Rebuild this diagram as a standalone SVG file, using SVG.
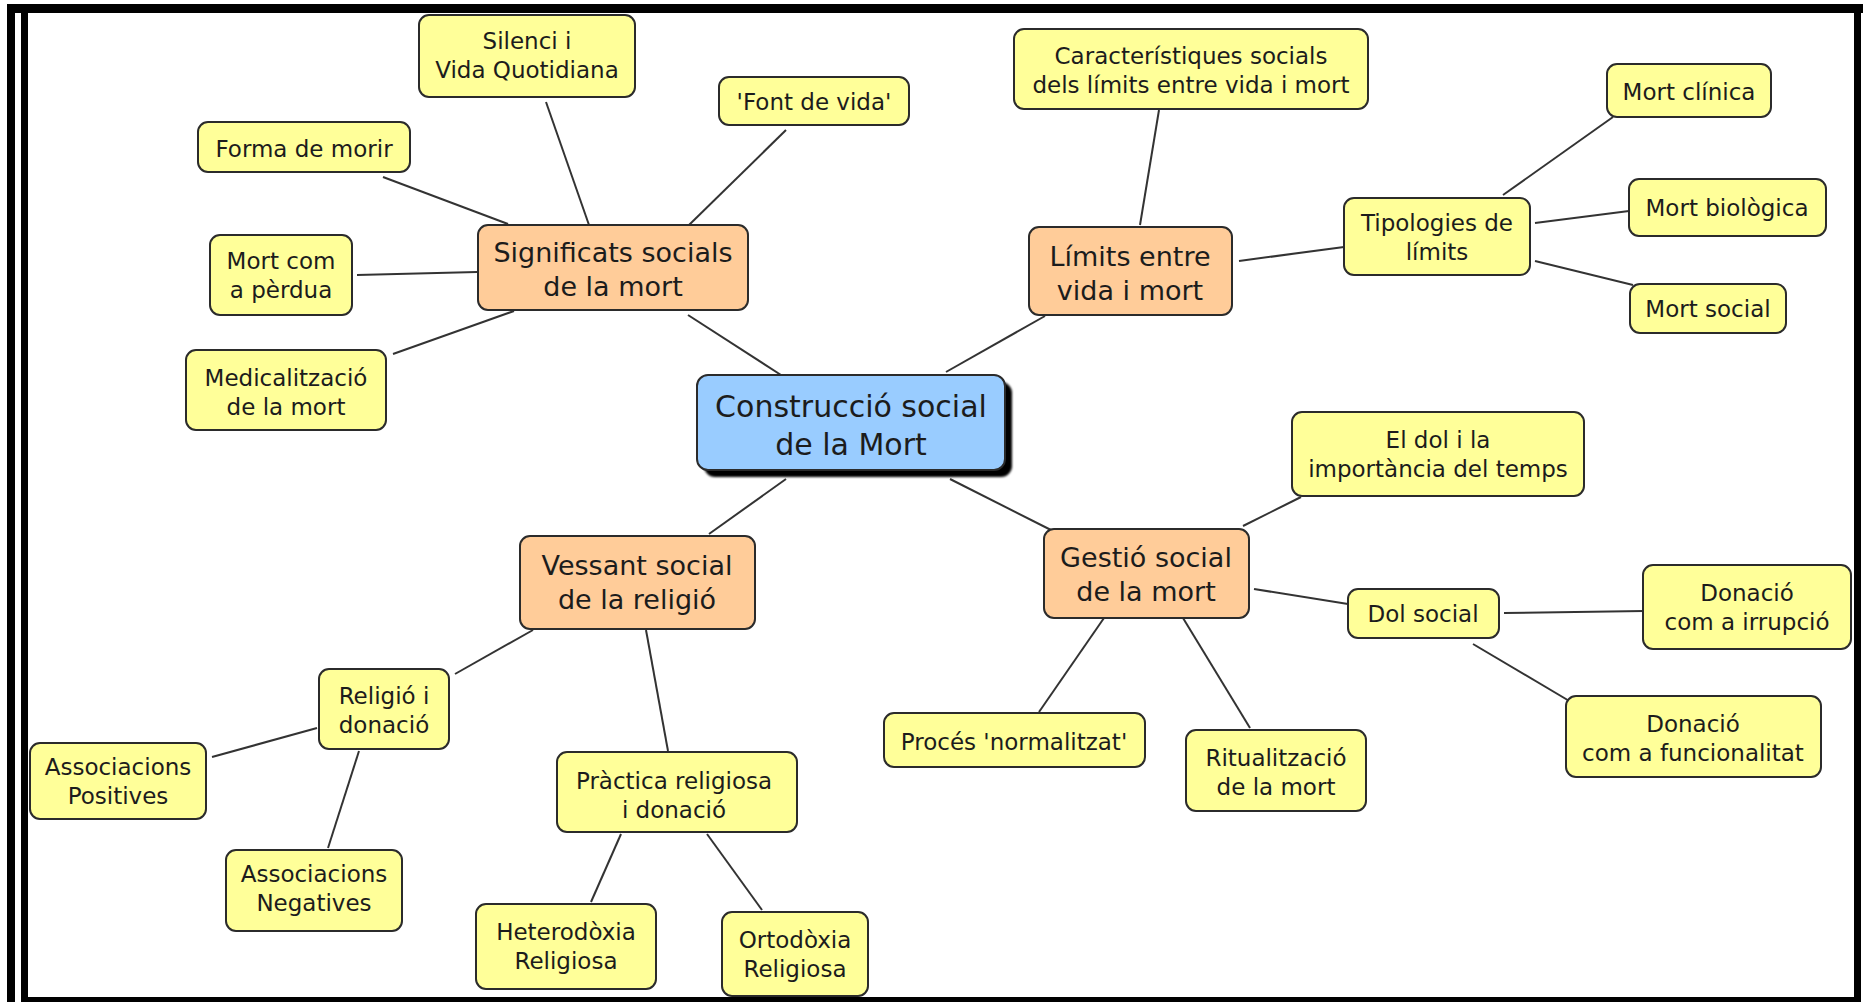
<svg xmlns="http://www.w3.org/2000/svg" width="1867" height="1002" viewBox="0 0 1867 1002">
  <style>
    .box { stroke: #2b2b2b; stroke-width: 2; }
    .leaf { fill: #ffff99; }
    .topic { fill: #ffcc99; }
    .root { fill: #99ccff; }
    text { font-family: "DejaVu Sans", Verdana, sans-serif; fill: #1c1c1c; text-anchor: middle; }
    .t23 { font-size: 23px; }
    .t27 { font-size: 27px; }
    .t30 { font-size: 30px; }
    #connectors line { stroke: #333333; stroke-width: 2; }
  </style>
  <defs>
    <filter id="soft" x="-5%" y="-5%" width="115%" height="120%">
      <feGaussianBlur stdDeviation="1"/>
    </filter>
  </defs>

  <rect width="1867" height="1002" fill="#ffffff"/>

  <!-- page frame -->
  <g id="frame" fill="#000000">
    <rect x="7" y="4" width="1856" height="9"/>
    <rect x="7" y="4" width="8" height="998"/>
    <rect x="21" y="13" width="7" height="989"/>
    <rect x="1854" y="13" width="7" height="989"/>
    <rect x="21" y="997" width="1835" height="5"/>
  </g>

  <!-- links between concepts -->
  <g id="connectors">
    <line x1="383" y1="177" x2="508" y2="224"/>
    <line x1="546" y1="102" x2="589" y2="225"/>
    <line x1="786" y1="130" x2="689" y2="225"/>
    <line x1="357" y1="275" x2="477" y2="272"/>
    <line x1="393" y1="354" x2="514" y2="311"/>
    <line x1="688" y1="315" x2="781" y2="375"/>
    <line x1="1159" y1="110" x2="1140" y2="225"/>
    <line x1="1239" y1="261" x2="1344" y2="247"/>
    <line x1="1503" y1="195" x2="1613" y2="117"/>
    <line x1="1535" y1="223" x2="1629" y2="211"/>
    <line x1="1535" y1="261" x2="1633" y2="285"/>
    <line x1="1045" y1="316" x2="946" y2="372"/>
    <line x1="786" y1="479" x2="709" y2="534"/>
    <line x1="533" y1="630" x2="455" y2="674"/>
    <line x1="646" y1="630" x2="668" y2="751"/>
    <line x1="317" y1="728" x2="212" y2="757"/>
    <line x1="359" y1="751" x2="328" y2="848"/>
    <line x1="621" y1="834" x2="591" y2="902"/>
    <line x1="707" y1="834" x2="762" y2="910"/>
    <line x1="950" y1="479" x2="1051" y2="530"/>
    <line x1="1243" y1="526" x2="1301" y2="497"/>
    <line x1="1254" y1="589" x2="1348" y2="604"/>
    <line x1="1504" y1="613" x2="1644" y2="611"/>
    <line x1="1473" y1="644" x2="1571" y2="702"/>
    <line x1="1104" y1="618" x2="1039" y2="712"/>
    <line x1="1183" y1="618" x2="1250" y2="728"/>
  </g>

  <!-- root concept -->
  <g id="n-construccio">
    <rect x="704" y="382" width="308" height="95" rx="11" fill="#000000" filter="url(#soft)"/>
    <rect class="box root" x="697" y="375" width="308" height="95" rx="11"/>
    <text class="t30" x="851" y="417">Construcció social</text>
    <text class="t30" x="851" y="455">de la Mort</text>
  </g>

  <!-- Significats socials de la mort -->
  <g id="n-significats">
    <rect class="box topic" x="478" y="225" width="270" height="85" rx="10"/>
    <text class="t27" x="613" y="262">Significats socials</text>
    <text class="t27" x="613" y="296">de la mort</text>
  </g>
  <g id="n-silenci">
    <rect class="box leaf" x="419" y="15" width="216" height="82" rx="10"/>
    <text class="t23" x="527" y="49">Silenci i</text>
    <text class="t23" x="527" y="78">Vida Quotidiana</text>
  </g>
  <g id="n-font">
    <rect class="box leaf" x="719" y="77" width="190" height="48" rx="10"/>
    <text class="t23" x="814" y="110">'Font de vida'</text>
  </g>
  <g id="n-forma">
    <rect class="box leaf" x="198" y="122" width="212" height="50" rx="10"/>
    <text class="t23" x="304" y="157">Forma de morir</text>
  </g>
  <g id="n-perdua">
    <rect class="box leaf" x="210" y="235" width="142" height="80" rx="10"/>
    <text class="t23" x="281" y="269">Mort com</text>
    <text class="t23" x="281" y="298">a pèrdua</text>
  </g>
  <g id="n-medicalitzacio">
    <rect class="box leaf" x="186" y="350" width="200" height="80" rx="10"/>
    <text class="t23" x="286" y="386">Medicalització</text>
    <text class="t23" x="286" y="415">de la mort</text>
  </g>

  <!-- Límits entre vida i mort -->
  <g id="n-limits">
    <rect class="box topic" x="1029" y="227" width="203" height="88" rx="10"/>
    <text class="t27" x="1130" y="266">Límits entre</text>
    <text class="t27" x="1130" y="300">vida i mort</text>
  </g>
  <g id="n-caracteristiques">
    <rect class="box leaf" x="1014" y="29" width="354" height="80" rx="10"/>
    <text class="t23" x="1191" y="64">Característiques socials</text>
    <text class="t23" x="1191" y="93">dels límits entre vida i mort</text>
  </g>
  <g id="n-tipologies">
    <rect class="box leaf" x="1344" y="198" width="186" height="77" rx="10"/>
    <text class="t23" x="1437" y="231">Tipologies de</text>
    <text class="t23" x="1437" y="260">límits</text>
  </g>
  <g id="n-clinica">
    <rect class="box leaf" x="1607" y="64" width="164" height="53" rx="10"/>
    <text class="t23" x="1689" y="100">Mort clínica</text>
  </g>
  <g id="n-biologica">
    <rect class="box leaf" x="1629" y="179" width="197" height="57" rx="10"/>
    <text class="t23" x="1727" y="216">Mort biològica</text>
  </g>
  <g id="n-mortsocial">
    <rect class="box leaf" x="1630" y="284" width="156" height="49" rx="10"/>
    <text class="t23" x="1708" y="317">Mort social</text>
  </g>

  <!-- Gestió social de la mort -->
  <g id="n-gestio">
    <rect class="box topic" x="1044" y="529" width="205" height="89" rx="10"/>
    <text class="t27" x="1146" y="567">Gestió social</text>
    <text class="t27" x="1146" y="601">de la mort</text>
  </g>
  <g id="n-eldol">
    <rect class="box leaf" x="1292" y="412" width="292" height="84" rx="10"/>
    <text class="t23" x="1438" y="448">El dol i la</text>
    <text class="t23" x="1438" y="477">importància del temps</text>
  </g>
  <g id="n-dolsocial">
    <rect class="box leaf" x="1348" y="589" width="151" height="49" rx="10"/>
    <text class="t23" x="1423" y="622">Dol social</text>
  </g>
  <g id="n-irrupcio">
    <rect class="box leaf" x="1643" y="565" width="208" height="84" rx="10"/>
    <text class="t23" x="1747" y="601">Donació</text>
    <text class="t23" x="1747" y="630">com a irrupció</text>
  </g>
  <g id="n-funcionalitat">
    <rect class="box leaf" x="1566" y="696" width="255" height="81" rx="10"/>
    <text class="t23" x="1693" y="732">Donació</text>
    <text class="t23" x="1693" y="761">com a funcionalitat</text>
  </g>
  <g id="n-proces">
    <rect class="box leaf" x="884" y="713" width="261" height="54" rx="10"/>
    <text class="t23" x="1014" y="750">Procés 'normalitzat'</text>
  </g>
  <g id="n-ritualitzacio">
    <rect class="box leaf" x="1186" y="730" width="180" height="81" rx="10"/>
    <text class="t23" x="1276" y="766">Ritualització</text>
    <text class="t23" x="1276" y="795">de la mort</text>
  </g>

  <!-- Vessant social de la religió -->
  <g id="n-vessant">
    <rect class="box topic" x="520" y="536" width="235" height="93" rx="10"/>
    <text class="t27" x="637" y="575">Vessant social</text>
    <text class="t27" x="637" y="609">de la religió</text>
  </g>
  <g id="n-religio">
    <rect class="box leaf" x="319" y="669" width="130" height="80" rx="10"/>
    <text class="t23" x="384" y="704">Religió i</text>
    <text class="t23" x="384" y="733">donació</text>
  </g>
  <g id="n-positives">
    <rect class="box leaf" x="30" y="743" width="176" height="76" rx="10"/>
    <text class="t23" x="118" y="775">Associacions</text>
    <text class="t23" x="118" y="804">Positives</text>
  </g>
  <g id="n-negatives">
    <rect class="box leaf" x="226" y="850" width="176" height="81" rx="10"/>
    <text class="t23" x="314" y="882">Associacions</text>
    <text class="t23" x="314" y="911">Negatives</text>
  </g>
  <g id="n-practica">
    <rect class="box leaf" x="557" y="752" width="240" height="80" rx="10"/>
    <text class="t23" x="674" y="789">Pràctica religiosa</text>
    <text class="t23" x="674" y="818">i donació</text>
  </g>
  <g id="n-heterodoxia">
    <rect class="box leaf" x="476" y="904" width="180" height="85" rx="10"/>
    <text class="t23" x="566" y="940">Heterodòxia</text>
    <text class="t23" x="566" y="969">Religiosa</text>
  </g>
  <g id="n-ortodoxia">
    <rect class="box leaf" x="722" y="912" width="146" height="84" rx="10"/>
    <text class="t23" x="795" y="948">Ortodòxia</text>
    <text class="t23" x="795" y="977">Religiosa</text>
  </g>
</svg>
